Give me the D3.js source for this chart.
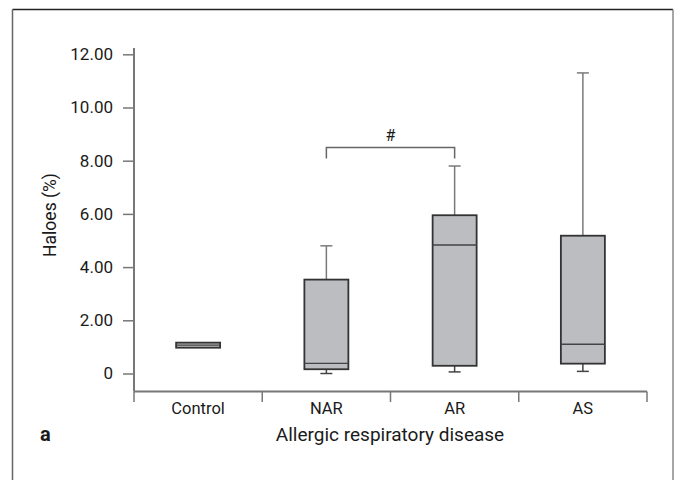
<!DOCTYPE html>
<html>
<head>
<meta charset="utf-8">
<script src="https://cdn.jsdelivr.net/npm/d3@7"></script>
<style>
  html, body { margin: 0; padding: 0; background: #fff; }
  svg { display: block; }
  text { font-family: Roboto, "Open Sans", sans-serif; fill: #1a1a1a; }
</style>
</head>
<body>
<svg id="chart" width="674" height="480"></svg>
<script>
// ---- data ----
const categories = ["Control", "NAR", "AR", "AS"];
const whiskerLow  = [null, 0.00, 0.06, 0.08];
const q1          = [0.97, 0.16, 0.29, 0.37];
const median      = [1.07, 0.38, 4.83, 1.10];
const q3          = [1.16, 3.53, 5.95, 5.18];
const whiskerHigh = [null, 4.80, 7.80, 11.30];
const yTicks = [0, 2, 4, 6, 8, 10, 12];
const yTickLabels = ["0", "2.00", "4.00", "6.00", "8.00", "10.00", "12.00"];
const bracketPair = ["NAR", "AR"];
const bracketValue = 8.50;
const bracketLabel = "#";

const svg = d3.select("#chart");

// frame
svg.append("line").attr("x1", 12.5).attr("x2", 673).attr("y1", 9.5).attr("y2", 9.5)
  .attr("stroke", "#222").attr("stroke-width", 1.5);
svg.append("line").attr("x1", 12.5).attr("x2", 12.5).attr("y1", 9.5).attr("y2", 480)
  .attr("stroke", "#666").attr("stroke-width", 1.5);
svg.append("line").attr("x1", 673).attr("x2", 673).attr("y1", 9.5).attr("y2", 480)
  .attr("stroke", "#888").attr("stroke-width", 1.5);

const left = 134, right = 647;
const y = d3.scaleLinear().domain([0, 12]).range([373.5, 54.3]);
const x = d3.scaleBand().domain(categories).range([left, right]).padding(0);
const axisY = 391.5;

const axisColor = "#777";

// y axis
const yAxis = d3.axisLeft(y).tickValues(yTicks)
  .tickFormat((d, i) => yTickLabels[i]).tickSize(11).tickPadding(10);
const gy = svg.append("g").attr("transform", `translate(${left},0)`).call(yAxis);
gy.select(".domain").remove();
gy.selectAll(".tick line").attr("stroke", axisColor).attr("stroke-width", 1.5);
gy.selectAll(".tick text").attr("font-size", 17).attr("fill", "#1a1a1a")
  .style("font-family", "Roboto, sans-serif");
svg.append("line").attr("x1", left).attr("x2", left).attr("y1", 48).attr("y2", axisY)
  .attr("stroke", axisColor).attr("stroke-width", 2);

// x axis
svg.append("line").attr("x1", left).attr("x2", right).attr("y1", axisY).attr("y2", axisY)
  .attr("stroke", axisColor).attr("stroke-width", 2);
const boundaries = categories.map(c => x(c)).concat([right]);
svg.selectAll(".xtick").data(boundaries).enter().append("line")
  .attr("x1", d => d).attr("x2", d => d).attr("y1", axisY).attr("y2", axisY + 10.5)
  .attr("stroke", axisColor).attr("stroke-width", 1.5);
svg.selectAll(".xlab").data(categories).enter().append("text")
  .attr("x", d => x(d) + x.bandwidth() / 2).attr("y", 414)
  .attr("text-anchor", "middle").attr("font-size", 16.5).text(d => d);

// axis titles
svg.append("text").attr("transform", "translate(56,215) rotate(-90)")
  .attr("text-anchor", "middle").attr("font-size", 17.5).text("Haloes (%)");
svg.append("text").attr("x", 390).attr("y", 441)
  .attr("text-anchor", "middle").attr("font-size", 19).text("Allergic respiratory disease");
svg.append("text").attr("x", 40).attr("y", 441)
  .attr("font-size", 20).attr("font-weight", "bold").text("a");

// boxes
const boxW = 44, capW = 12;
const whiskerColor = "#7a7a7a";
categories.forEach((c, i) => {
  const cx = x(c) + x.bandwidth() / 2;
  const g = svg.append("g");
  if (whiskerHigh[i] !== null) {
    g.append("line").attr("x1", cx).attr("x2", cx).attr("y1", y(q3[i])).attr("y2", y(whiskerHigh[i]))
      .attr("stroke", whiskerColor).attr("stroke-width", 1.5);
    g.append("line").attr("x1", cx - capW / 2).attr("x2", cx + capW / 2)
      .attr("y1", y(whiskerHigh[i])).attr("y2", y(whiskerHigh[i]))
      .attr("stroke", whiskerColor).attr("stroke-width", 1.5);
  }
  if (whiskerLow[i] !== null) {
    g.append("line").attr("x1", cx).attr("x2", cx).attr("y1", y(q1[i])).attr("y2", y(whiskerLow[i]))
      .attr("stroke", "#444").attr("stroke-width", 1.5);
    g.append("line").attr("x1", cx - capW / 2).attr("x2", cx + capW / 2)
      .attr("y1", y(whiskerLow[i])).attr("y2", y(whiskerLow[i]))
      .attr("stroke", "#444").attr("stroke-width", 1.5);
  }
  g.append("rect").attr("x", cx - boxW / 2).attr("width", boxW)
    .attr("y", y(q3[i])).attr("height", y(q1[i]) - y(q3[i]))
    .attr("fill", "#bcbdc0").attr("stroke", "#333").attr("stroke-width", 1.8);
  g.append("line").attr("x1", cx - boxW / 2).attr("x2", cx + boxW / 2)
    .attr("y1", y(median[i])).attr("y2", y(median[i]))
    .attr("stroke", "#444").attr("stroke-width", 1.3);
});

// significance bracket
const bx1 = x(bracketPair[0]) + x.bandwidth() / 2;
const bx2 = x(bracketPair[1]) + x.bandwidth() / 2;
const by = y(bracketValue);
svg.append("path")
  .attr("d", `M${bx1},${by + 11}V${by}H${bx2}V${by + 11}`)
  .attr("fill", "none").attr("stroke", "#666").attr("stroke-width", 1.5);
svg.append("text").attr("x", (bx1 + bx2) / 2).attr("y", by - 6)
  .attr("text-anchor", "middle").attr("font-size", 16).text(bracketLabel);
</script>
</body>
</html>
